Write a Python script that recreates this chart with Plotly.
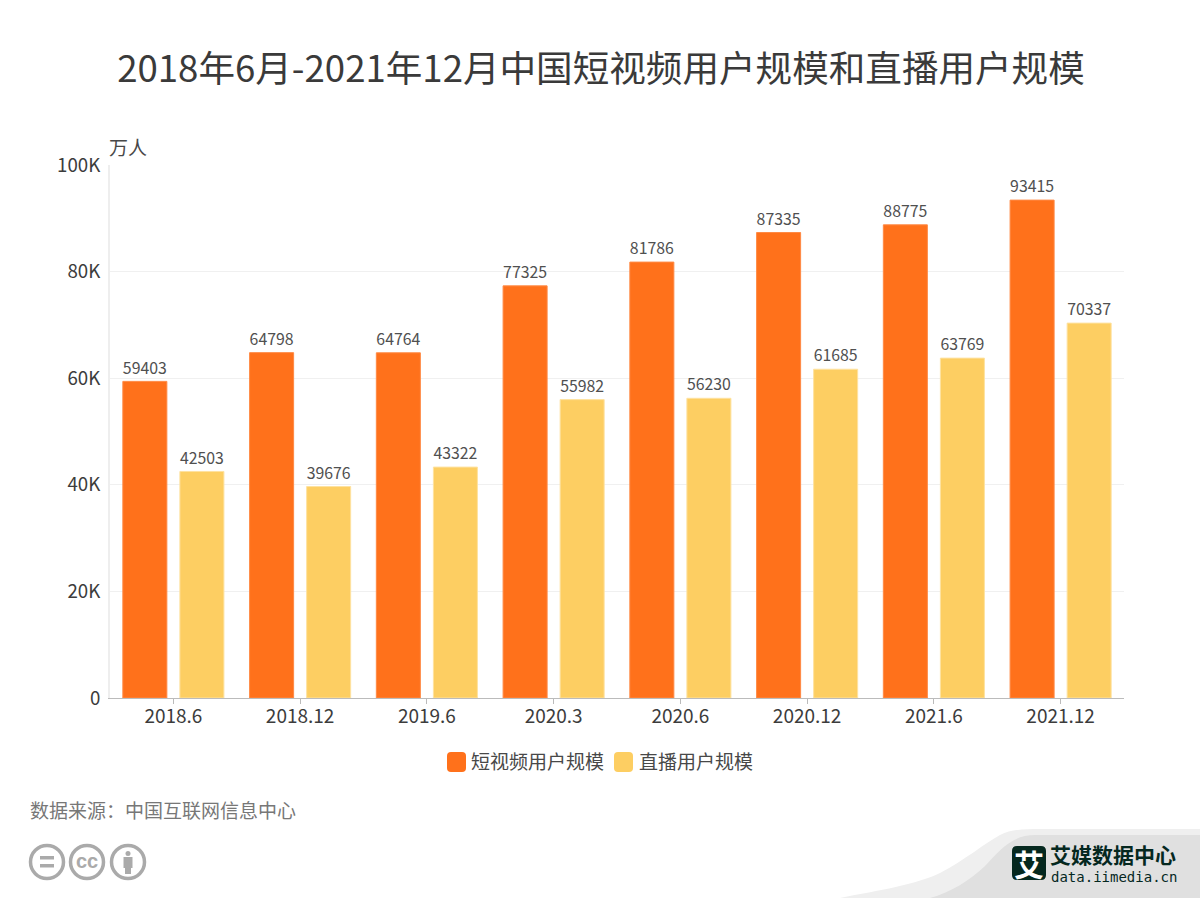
import plotly.graph_objects as go

months = ["2018.6", "2018.12", "2019.6", "2020.3", "2020.6", "2020.12", "2021.6", "2021.12"]
short_video = [59403, 64798, 64764, 77325, 81786, 87335, 88775, 93415]
live = [42503, 39676, 43322, 55982, 56230, 61685, 63769, 70337]
y_ticks = [0, 20000, 40000, 60000, 80000, 100000]
y_labels = ["0", "20K", "40K", "60K", "80K", "100K"]

ORANGE = "#FF711B"
YELLOW = "#FDCE62"
FONT = "Noto Sans CJK SC"

W = 1200
H = 898
LEFT = 110
RIGHT = 1124
TOP = 165
BOTTOM = 698


# page pixels to paper coords (paper = the plot area), for the decoration
def px(x):
    return (x - LEFT) / (RIGHT - LEFT)


def py(y):
    return (BOTTOM - y) / (BOTTOM - TOP)


def note(x, y, text, size, color, anchor="left", family=FONT):
    fig.add_annotation(x=px(x), y=py(y), xref="paper", yref="paper", text=text, showarrow=False,
                       xanchor=anchor, yanchor="middle", font=dict(size=size, color=color, family=family),
                       borderpad=0, borderwidth=0)


def path_shape(points, color):
    d = ""
    for p in points:
        d += p[0] + " ".join(f"{px(p[i])},{py(p[i + 1])}" for i in range(1, len(p), 2)) + " "
    fig.add_shape(type="path", xref="paper", yref="paper", path=d + "Z", fillcolor=color, line_width=0)


def round_box(x0, y0, x1, y1, r, color):
    path_shape([("M", x0 + r, y0), ("L", x1 - r, y0), ("Q", x1, y0, x1, y0 + r), ("L", x1, y1 - r),
                ("Q", x1, y1, x1 - r, y1), ("L", x0 + r, y1), ("Q", x0, y1, x0, y1 - r), ("L", x0, y0 + r),
                ("Q", x0, y0, x0 + r, y0)], color)


def box(x0, y0, x1, y1, color):
    fig.add_shape(type="rect", xref="paper", yref="paper", x0=px(x0), x1=px(x1), y0=py(y0), y1=py(y1),
                  fillcolor=color, line_width=0)


fig = go.Figure()
fig.add_trace(go.Bar(x=months, y=short_video, name="短视频用户规模", text=short_video, textposition="outside",
                     marker=dict(color=ORANGE, line=dict(color="#FF8A45", width=1)), cliponaxis=False))
fig.add_trace(go.Bar(x=months, y=live, name="直播用户规模", text=live, textposition="outside",
                     marker=dict(color=YELLOW, line=dict(color="#FEE2A0", width=1)), cliponaxis=False))

fig.update_traces(textfont=dict(size=16.5, color="#505050", family=FONT), textangle=0)

fig.update_layout(
    width=W, height=H,
    margin=dict(l=LEFT, r=W - RIGHT, t=TOP, b=H - BOTTOM),
    paper_bgcolor="white", plot_bgcolor="white",
    font=dict(family=FONT, color="#3C3C3C"),
    showlegend=False,
    barmode="group", bargap=0.1, bargroupgap=0.228,
    title=dict(text="2018年6月-2021年12月中国短视频用户规模和直播用户规模", x=601 / W, xanchor="center",
               y=1 - 69 / H, yanchor="middle", font=dict(size=36.6, color="#3A3A3A", family=FONT)),
    xaxis=dict(type="category", tickfont=dict(size=19, color="#3C3C3C", family=FONT), ticks="outside", ticklen=5,
               tickcolor="#BBBBBB", showline=True, linecolor="#BBBBBB", linewidth=1, showgrid=False,
               ticklabelstandoff=-4),
    yaxis=dict(range=[0, 100000], tickvals=y_ticks, ticktext=y_labels, tickfont=dict(size=18.7, color="#3C3C3C", family=FONT),
               showline=True, linecolor="#EEEEEE", linewidth=2, gridcolor="#F0F0F0", gridwidth=1,
               ticks="", zeroline=False, ticklabelstandoff=4),
)

note(109, 146.5, "万人", 19, "#484848")
note(30, 809.5, "数据来源：中国互联网信息中心", 19, "#777777")

# legend
round_box(447, 752, 466, 772, 4, ORANGE)
note(471, 760, "短视频用户规模", 19, "#484848")
round_box(614, 752, 633, 772, 4, YELLOW)
note(639, 760, "直播用户规模", 19, "#484848")

# corner swoosh
path_shape([("M", 840, 898), ("C", 880, 890, 915, 885, 940, 873), ("C", 965, 860, 985, 843, 1000, 835),
            ("C", 1012, 829, 1025, 829, 1040, 829), ("L", 1200, 829), ("L", 1200, 898)], "#EFEFEF")
path_shape([("M", 930, 898), ("C", 950, 893, 970, 880, 985, 866), ("C", 1000, 850, 1012, 835, 1035, 835),
            ("L", 1200, 835), ("L", 1200, 898)], "#E0E0E0")

# logo
round_box(1012, 846, 1046, 880, 5, "#05281F")
note(1029, 863, "<b>艾</b>", 30, "white", "center")
note(1050, 853.5, "<b>艾媒数据中心</b>", 21, "#05281F")
note(1051, 877, "data.iimedia.cn", 14, "#05281F", family="DejaVu Sans Mono")

# licence badges
for cx in [47, 87, 128]:
    fig.add_shape(type="circle", xref="paper", yref="paper", x0=px(cx - 16.5), x1=px(cx + 16.5), y0=py(862 + 16.5),
                  y1=py(862 - 16.5), line=dict(color="#AAAAAA", width=3.5), fillcolor="white")
box(40, 856, 54, 859.5, "#AAAAAA")
box(40, 864, 54, 867.5, "#AAAAAA")
note(87, 861, "<b>cc</b>", 20, "#AAAAAA", "center", "Liberation Sans")
fig.add_shape(type="circle", xref="paper", yref="paper", x0=px(125.5), x1=px(130.5), y0=py(856), y1=py(851),
              fillcolor="#AAAAAA", line_width=0)
box(123.5, 857, 132.5, 868, "#AAAAAA")
box(125, 868, 131, 874, "#AAAAAA")

# drop the browser's default body margin so the figure fills the window
fig.write_html("out.html", config={"displayModeBar": False}, post_script="document.body.style.margin='0';")
